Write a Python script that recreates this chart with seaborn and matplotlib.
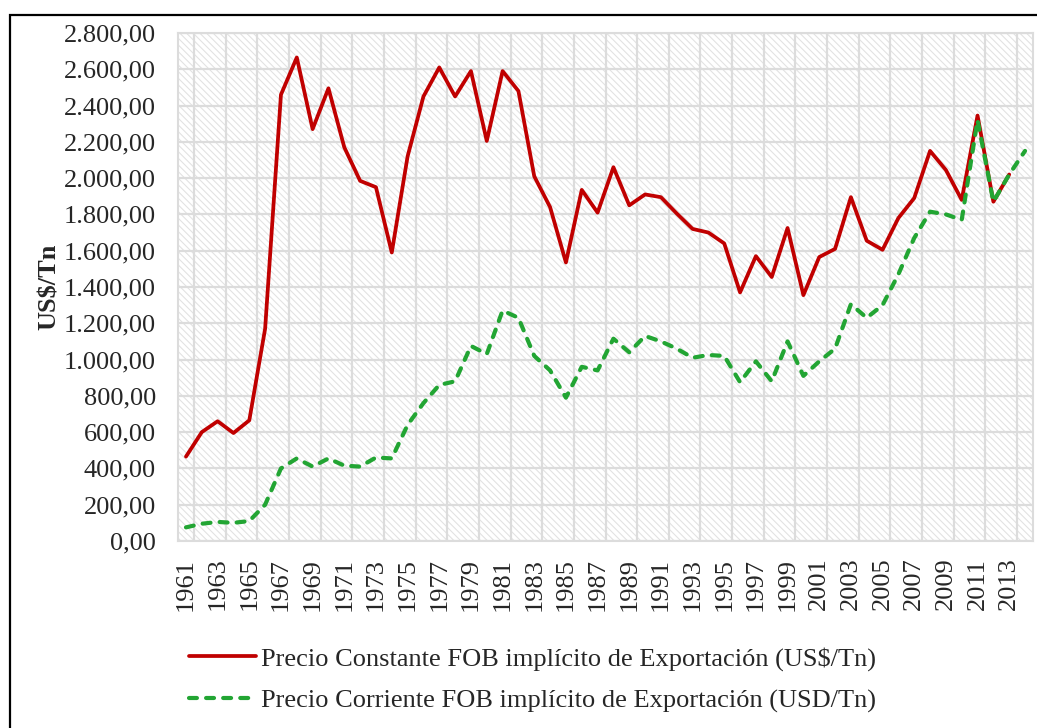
import numpy as np
import pandas as pd
import matplotlib.pyplot as plt
import seaborn as sns
from matplotlib.patches import Rectangle
from matplotlib.ticker import FuncFormatter

# %%
# datos

anios_constante = list(range(1961, 2014))
precio_constante = [465, 600, 660, 595, 665, 1170, 2460, 2665, 2270, 2495,
                    2170, 1985, 1950, 1590, 2120, 2450, 2610, 2450, 2590, 2205,
                    2590, 2480, 2010, 1840, 1535, 1935, 1810, 2060, 1850, 1910,
                    1895, 1805, 1720, 1700, 1640, 1370, 1570, 1455, 1725, 1355,
                    1565, 1610, 1895, 1655, 1605, 1780, 1890, 2150, 2045, 1880,
                    2345, 1870, 2020]

anios_corriente = list(range(1961, 2015))
precio_corriente = [75, 95, 105, 100, 110, 200, 400, 455, 410, 455,
                    415, 410, 460, 455, 640, 760, 860, 880, 1075, 1030,
                    1270, 1230, 1020, 940, 790, 960, 940, 1115, 1040, 1130,
                    1100, 1060, 1010, 1025, 1020, 875, 990, 880, 1100, 910,
                    990, 1060, 1305, 1230, 1300, 1470, 1670, 1815, 1800, 1770,
                    2320, 1870, 2020, 2150]

etiqueta_constante = "Precio Constante FOB implícito de Exportación (US$/Tn)"
etiqueta_corriente = "Precio Corriente FOB implícito de Exportación (USD/Tn)"

df_const = pd.DataFrame({'anio': anios_constante, 'precio': precio_constante})
df_corr = pd.DataFrame({'anio': anios_corriente, 'precio': precio_corriente})

# %%
# estilo

sns.set_style("white")
plt.rcParams['font.family'] = ['Liberation Serif', 'DejaVu Serif']
plt.rcParams['hatch.linewidth'] = 0.8
plt.rcParams['hatch.color'] = '#e2e2e2'

gris = '#dcdcdc'
tam = 19

fig = plt.figure(figsize=(10.37, 7.28), dpi=100)
ax = fig.add_axes([0.1717, 0.2569, 0.9961 - 0.1717, 0.9547 - 0.2569])

# fondo rayado
fondo = Rectangle((0, 0), 1, 1, transform=ax.transAxes, facecolor='white',
                  edgecolor='#e2e2e2', hatch='\\\\\\\\\\', linewidth=0,
                  zorder=0)
ax.add_patch(fondo)

sns.lineplot(data=df_const, x='anio', y='precio', ax=ax, color='#c00000',
             linewidth=2.7, label=etiqueta_constante, zorder=3)
sns.lineplot(data=df_corr, x='anio', y='precio', ax=ax, color='#22a533',
             linewidth=3.0, label=etiqueta_corriente, zorder=4)
linea_verde = ax.get_lines()[1]
linea_verde.set_linestyle((0, (1.9, 2.2)))
linea_verde.set_dash_capstyle('round')

ax.set_xlim(1960.5, 2014.5)
ax.set_ylim(0, 2800)
ax.set_yticks(np.arange(0, 2801, 200))
ax.set_xticks(list(range(1961, 2014, 2)))
ax.set_xticks(np.arange(1961.5, 2014, 2), minor=True)


def formato_es(v, pos):
    s = f"{v:,.2f}"
    return s.replace(',', 'X').replace('.', ',').replace('X', '.')


ax.yaxis.set_major_formatter(FuncFormatter(formato_es))
ax.tick_params(axis='y', length=0, pad=16, labelsize=tam)
ax.tick_params(axis='x', which='both', length=0, pad=12, labelsize=tam,
               labelrotation=90)

ax.grid(axis='y', which='major', color=gris, linewidth=1.6, zorder=1)
ax.grid(axis='x', which='minor', color=gris, linewidth=1.6, zorder=1)
ax.set_axisbelow(True)
for sp in ax.spines.values():
    sp.set_color(gris)
    sp.set_linewidth(1.5)

ax.set_xlabel("")
ax.set_ylabel("US\\$/Tn", fontsize=tam, fontweight='bold', labelpad=2)

ax.get_legend().remove()
h, l = ax.get_legend_handles_labels()
fig.legend(h, l, loc='upper left', bbox_to_anchor=(0.172, 0.126),
           frameon=False, fontsize=tam, handlelength=2.55, handletextpad=0.2,
           labelspacing=0.7, borderaxespad=0)

# borde exterior
borde = Rectangle((10 / 1037, -0.05), 1.1, 1 - 15 / 728 + 0.05,
                  transform=fig.transFigure, fill=False, edgecolor='black',
                  linewidth=1.6, clip_on=False)
fig.patches.append(borde)

fig.savefig("out.png", dpi=100)
